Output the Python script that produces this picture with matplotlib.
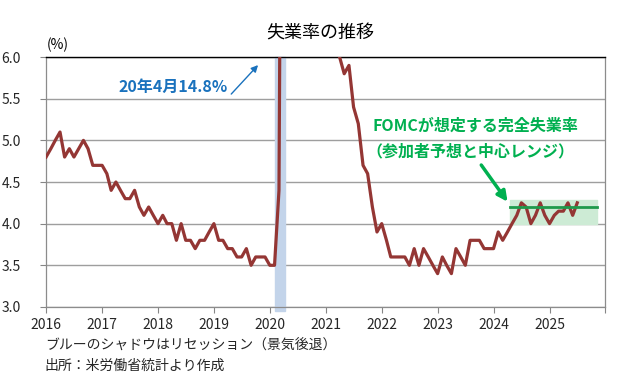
import matplotlib
matplotlib.use('Agg')
import matplotlib.pyplot as plt
import pandas as pd

plt.rcParams['font.family'] = ['Noto Sans CJK JP', 'DejaVu Sans']

# 米国失業率（月次、%）2016年1月〜2025年7月
rate_2016 = [4.8, 4.9, 5.0, 5.1, 4.8, 4.9, 4.8, 4.9, 5.0, 4.9, 4.7, 4.7]
rate_2017 = [4.7, 4.6, 4.4, 4.5, 4.4, 4.3, 4.3, 4.4, 4.2, 4.1, 4.2, 4.1]
rate_2018 = [4.0, 4.1, 4.0, 4.0, 3.8, 4.0, 3.8, 3.8, 3.7, 3.8, 3.8, 3.9]
rate_2019 = [4.0, 3.8, 3.8, 3.7, 3.7, 3.6, 3.6, 3.7, 3.5, 3.6, 3.6, 3.6]
rate_2020 = [3.5, 3.5, 4.4, 14.8, 13.3, 11.1, 10.2, 8.4, 7.9, 6.9, 6.7, 6.7]
rate_2021 = [6.4, 6.2, 6.1, 6.0, 5.8, 5.9, 5.4, 5.2, 4.7, 4.6, 4.2, 3.9]
rate_2022 = [4.0, 3.8, 3.6, 3.6, 3.6, 3.6, 3.5, 3.7, 3.5, 3.7, 3.6, 3.5]
rate_2023 = [3.4, 3.6, 3.5, 3.4, 3.7, 3.6, 3.5, 3.8, 3.8, 3.8, 3.7, 3.7]
rate_2024 = [3.7, 3.9, 3.8, 3.9, 4.0, 4.1, 4.25, 4.2, 4.0, 4.1, 4.25, 4.1]
rate_2025 = [4.0, 4.1, 4.15, 4.15, 4.25, 4.1, 4.25]
rate = (rate_2016 + rate_2017 + rate_2018 + rate_2019 + rate_2020 +
        rate_2021 + rate_2022 + rate_2023 + rate_2024 + rate_2025)
dates = pd.date_range('2016-01-01', periods=len(rate), freq='MS')

# リセッション期間
recession = (pd.Timestamp('2020-02-01'), pd.Timestamp('2020-04-10'))

# FOMC 長期失業率見通し（中央値と中心レンジ）
fomc_span = (pd.Timestamp('2024-04-15'), pd.Timestamp('2025-11-10'))
fomc_median = 4.2
fomc_range = (4.0, 4.28)

years = list(range(2016, 2027))
year_labels = [str(y) for y in years[:-1]] + ['']
yticks = [3.0, 3.5, 4.0, 4.5, 5.0, 5.5, 6.0]

fig = plt.figure(figsize=(6.4, 3.78), dpi=100)
ax = fig.add_axes([0.072, 0.188, 0.874, 0.661])

ax.axvspan(recession[0], recession[1], ymin=-0.015, ymax=1.0,
           color='#c3d4ea', zorder=1, clip_on=False)
ax.fill_between(fomc_span, fomc_range[0], fomc_range[1],
                color='#cdebd5', zorder=1)
ax.plot(dates, rate, color='#943634', lw=2.3, zorder=3)
ax.plot(fomc_span, [fomc_median, fomc_median], color='#1e9a4b', lw=2.0, zorder=4)

ax.set_xlim(pd.Timestamp('2016-01-01'), pd.Timestamp('2026-01-01'))
ax.set_ylim(3.0, 6.0)
ax.set_xticks([pd.Timestamp(f'{y}-01-01') for y in years])
ax.set_xticklabels(year_labels)
ax.set_yticks(yticks)
ax.set_yticklabels([f'{v:.1f}' for v in yticks])
ax.tick_params(axis='both', labelsize=10, colors='#262626', length=4,
               width=0.8, direction='out', pad=2)
ax.tick_params(axis='x', colors='#868686', labelcolor='#262626', pad=4)
ax.tick_params(axis='y', colors='#868686', labelcolor='#262626', pad=14)

ax.yaxis.grid(True, color='#9e9e9e', lw=1.0, zorder=0)
ax.set_axisbelow(True)
for side in ['left', 'bottom', 'right']:
    ax.spines[side].set_color('#8c8c8c')
    ax.spines[side].set_linewidth(0.9)
ax.spines['top'].set_color('#000000')
ax.spines['top'].set_linewidth(1.0)

fig.text(0.5, 0.91, '失業率の推移', ha='center', va='center', fontsize=13)
ax.text(0.02, 1.05, '(%)', transform=ax.transAxes, ha='center', va='center',
        fontsize=10)

# 注記
ax.text(0.228, 0.881, '20年4月14.8%', transform=ax.transAxes, ha='center',
        va='center', color='#1a72bd', fontsize=11.5, fontweight='bold')
ax.annotate('', xy=(0.379, 0.968), xytext=(0.331, 0.852),
            xycoords='axes fraction', textcoords='axes fraction',
            arrowprops=dict(arrowstyle='-|>', color='#1a72bd', lw=1.0,
                            mutation_scale=10, shrinkA=0, shrinkB=0))

ax.text(0.768, 0.724, 'FOMCが想定する完全失業率', transform=ax.transAxes,
        ha='center', va='center', color='#00b050', fontsize=11.5,
        fontweight='bold')
ax.text(0.759, 0.621, '（参加者予想と中心レンジ）', transform=ax.transAxes,
        ha='center', va='center', color='#00b050', fontsize=11.5,
        fontweight='bold')
ax.annotate('', xy=(0.825, 0.421), xytext=(0.778, 0.568),
            xycoords='axes fraction', textcoords='axes fraction',
            arrowprops=dict(arrowstyle='-|>', color='#00b050', lw=2.5,
                            mutation_scale=15, shrinkA=0, shrinkB=0))

fig.text(0.07, 1 - 345 / 378, 'ブルーのシャドウはリセッション（景気後退）',
         ha='left', va='center', fontsize=10, color='#262626')
fig.text(0.07, 1 - 366 / 378, '出所：米労働省統計より作成',
         ha='left', va='center', fontsize=10, color='#262626')

fig.savefig('out.png', dpi=100)
